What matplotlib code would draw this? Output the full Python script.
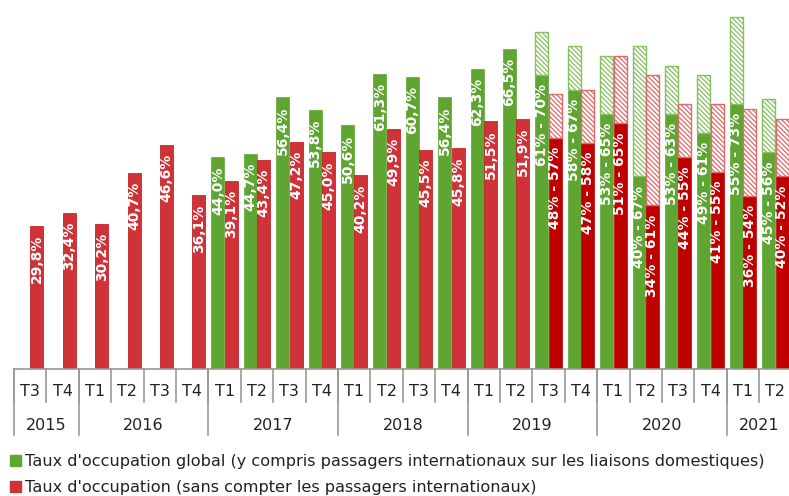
import matplotlib
matplotlib.use("Agg")
import matplotlib.pyplot as plt
from matplotlib.patches import Patch
import numpy as np

# quarters / years on the two-level x axis
quarters = ['T3', 'T4', 'T1', 'T2', 'T3', 'T4', 'T1', 'T2', 'T3', 'T4', 'T1', 'T2',
            'T3', 'T4', 'T1', 'T2', 'T3', 'T4', 'T1', 'T2', 'T3', 'T4', 'T1', 'T2']
years = ['2015', '2016', '2017', '2018', '2019', '2020', '2021']
year_counts = [2, 4, 4, 4, 4, 4, 2]

# taux d'occupation global (green), low value / high value of the range
green_low = [None] * 6 + [44.0, 44.7, 56.4, 53.8, 50.6, 61.3, 60.7, 56.4, 62.3, 66.5,
                          61, 58, 53, 40, 53, 49, 55, 45]
green_high = [None] * 16 + [70, 67, 65, 67, 63, 61, 73, 56]

# taux d'occupation sans passagers internationaux (red)
red_low = [29.8, 32.4, 30.2, 40.7, 46.6, 36.1, 39.1, 43.4, 47.2, 45.0, 40.2, 49.9,
           45.5, 45.8, 51.5, 51.9, 48, 47, 51, 34, 44, 41, 36, 40]
red_high = [None] * 16 + [57, 58, 65, 61, 55, 55, 54, 52]

GREEN = '#5fa532'
RED = '#d03337'
DARKRED = '#c00000'

plt.rcParams['hatch.linewidth'] = 0.9

fig = plt.figure(figsize=(7.89, 4.96), dpi=100)
ax = fig.add_axes([14 / 789, 126.7 / 496, 777.6 / 789, 369.3 / 496])

x = np.arange(len(quarters))
w = 0.40
off = 0.205


def fmt(v):
    return f"{v:.1f}".replace('.', ',') + '%'


def put_label(xpos, top, text):
    ax.annotate(text, (xpos, top), xytext=(0, -6.5), textcoords='offset points',
                rotation=90, ha='center', va='top', color='white',
                fontsize=10, fontweight='bold', clip_on=False)


for i in range(len(quarters)):
    # green bars
    lo = green_low[i]
    hi = green_high[i]
    if lo is not None:
        ax.bar(x[i] - off, lo, w, color=GREEN, edgecolor=GREEN, linewidth=0.5)
        if hi is not None:
            ax.bar(x[i] - off, hi - lo, w, bottom=lo, facecolor='white',
                   edgecolor='#86c060', hatch='\\' * 7, linewidth=1.0)
            put_label(x[i] - off, lo, f"{lo}% - {hi}%")
        else:
            put_label(x[i] - off, lo, fmt(lo))
    # red bars
    lo = red_low[i]
    hi = red_high[i]
    if hi is not None:
        ax.bar(x[i] + off, lo, w, color=DARKRED, edgecolor=DARKRED, linewidth=0.5)
        ax.bar(x[i] + off, hi - lo, w, bottom=lo, facecolor='white',
               edgecolor='#de6a6a', hatch='\\' * 7, linewidth=1.0)
        put_label(x[i] + off, lo, f"{lo}% - {hi}%")
    else:
        ax.bar(x[i] + off, lo, w, color=RED, edgecolor='#c4262b', linewidth=0.6)
        put_label(x[i] + off, lo, fmt(lo))

ax.set_xlim(-0.5, len(quarters) - 0.5)
ax.set_ylim(0, 76.6)
ax.set_xticks([])
ax.set_yticks([])
for s in ['top', 'right', 'left']:
    ax.spines[s].set_visible(False)
ax.spines['bottom'].set_color('#999999')
ax.spines['bottom'].set_linewidth(1.2)

# two-level category axis
tr = ax.get_xaxis_transform()
ax_h = 369.3
for i, q in enumerate(quarters):
    ax.text(x[i], -22.7 / ax_h, q, transform=tr, ha='center', va='center',
            fontsize=11.5, color='#222222')
    ax.plot([i - 0.5, i - 0.5], [0, -32.4 / ax_h], transform=tr, color='#999999',
            lw=1.2, clip_on=False)

start = 0
for yr, n in zip(years, year_counts):
    ax.plot([start - 0.5, start - 0.5], [0, -65.7 / ax_h], transform=tr,
            color='#999999', lw=1.2, clip_on=False)
    ax.text(start + (n - 1) / 2, -55.7 / ax_h, yr, transform=tr, ha='center',
            va='center', fontsize=11.5, color='#222222')
    start += n

handles = [Patch(color=GREEN), Patch(color=RED)]
labels = ["Taux d'occupation global (y compris passagers internationaux sur les liaisons domestiques)",
          "Taux d'occupation (sans compter les passagers internationaux)"]
fig.legend(handles, labels, loc='lower left', bbox_to_anchor=(0.0, -0.018),
           frameon=False, fontsize=11.6, handlelength=0.7, handleheight=0.7,
           handletextpad=0.25, labelspacing=0.7, borderaxespad=0.2,
           labelcolor='#222222')

fig.savefig('out.png', dpi=100)
